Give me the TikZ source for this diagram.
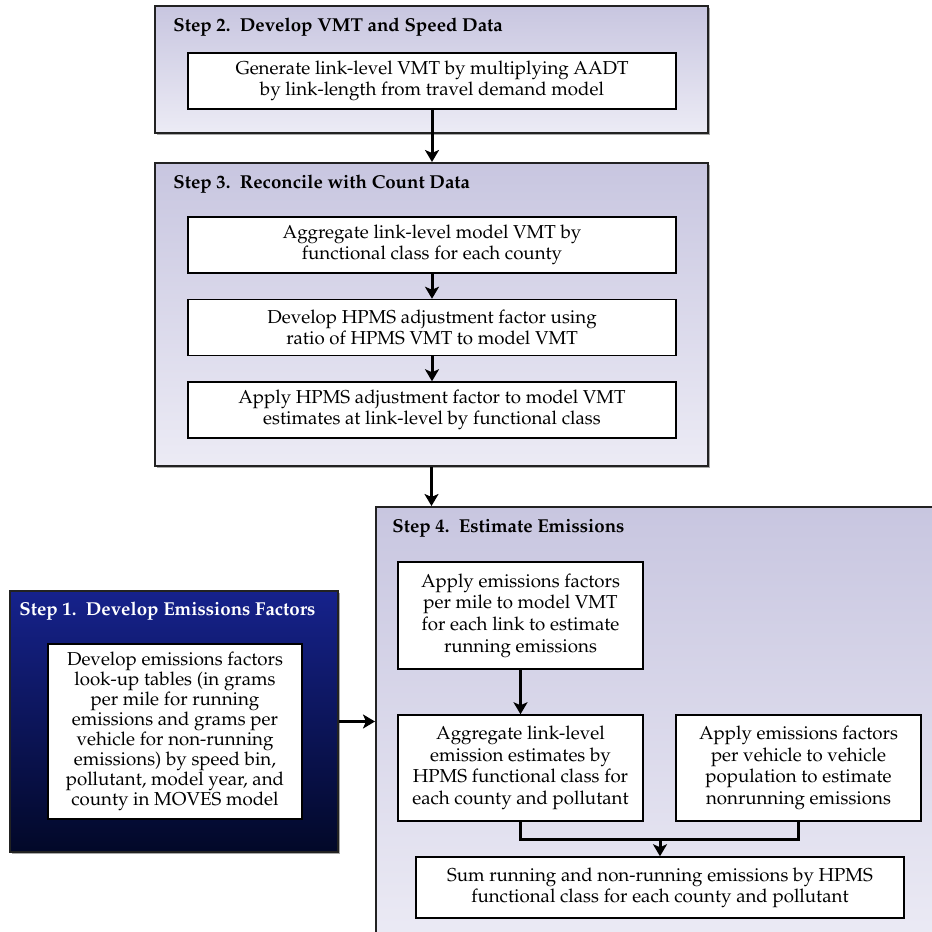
\documentclass[tikz,border=0pt]{standalone}
\usepackage[T1]{fontenc}
\usepackage{mathpazo}
\usetikzlibrary{arrows.meta,shadows}
\definecolor{lavtop}{HTML}{C8C6E0}
\definecolor{lavbot}{HTML}{ECEBF5}
\definecolor{navytop}{HTML}{16228C}
\definecolor{navybot}{HTML}{020828}
\definecolor{framecol}{HTML}{222222}
\definecolor{shadecol}{HTML}{A8A8A8}
\tikzset{
  boxshadow/.style={drop shadow={shadow xshift=0.8pt, shadow yshift=-0.8pt, fill=shadecol, opacity=1}},
  stepframe/.style={draw=framecol, line width=1pt, top color=lavtop, bottom color=lavbot, inner sep=0pt, boxshadow},
  darkframe/.style={draw=framecol, line width=1pt, top color=navytop, bottom color=navybot, inner sep=0pt, boxshadow},
  task/.style={draw=black, line width=0.75pt, fill=white, align=center, inner sep=0pt, font=\fontsize{9.35}{10.6}\selectfont},
  steptitle/.style={anchor=west, inner sep=0pt, font=\fontsize{9.35}{11}\selectfont\bfseries},
  flow/.style={line width=1.5pt, -{Stealth[length=6pt,width=7pt,inset=1.5pt]}},
  joinline/.style={line width=1.5pt},
}
\begin{document}
\begin{tikzpicture}[x=0.5pt,y=-0.5pt]
\useasboundingbox (0,0) rectangle (932,932);
% Step 2
\node[stepframe, minimum width=276.5pt, minimum height=63.5pt] (s2) at (431.5,69.5) {};
\node[steptitle] (s2t) at (173,27) {Step 2.\ \ Develop VMT and Speed Data};
\node[task, minimum width=244pt, minimum height=28pt] (s2a) at (432,81) {Generate link-level VMT by multiplying AADT\\by link-length from travel demand model};
% Step 3
\node[stepframe, minimum width=276.5pt, minimum height=151.5pt] (s3) at (431.5,314.5) {};
\node[steptitle] (s3t) at (173,184) {Step 3.\ \ Reconcile with Count Data};
\node[task, minimum width=244pt, minimum height=28pt] (s3a) at (432,245) {Aggregate link-level model VMT by\\functional class for each county};
\node[task, minimum width=244pt, minimum height=28pt] (s3b) at (432,327.5) {Develop HPMS adjustment factor using\\ratio of HPMS VMT to model VMT};
\node[task, minimum width=244pt, minimum height=28pt] (s3c) at (432,410) {Apply HPMS adjustment factor to model VMT\\estimates at link-level by functional class};
% Step 4
\node[stepframe, minimum width=287pt, minimum height=221.5pt] (s4) at (663,728.5) {};
\node[steptitle] (s4t) at (392,528) {Step 4.\ \ Estimate Emissions};
\node[task, minimum width=122.5pt, minimum height=53.5pt, font=\fontsize{9.35}{10.85}\selectfont] (s4a) at (520.5,615.5) {Apply emissions factors\\per mile to model VMT\\for each link to estimate\\running emissions};
\node[task, minimum width=122.5pt, minimum height=53pt, font=\fontsize{9.35}{10.85}\selectfont] (s4b) at (520.5,768) {Aggregate link-level\\emission estimates by\\HPMS functional class for\\each county and pollutant};
\node[task, minimum width=122.5pt, minimum height=53pt, font=\fontsize{9.35}{10.85}\selectfont] (s4c) at (798.5,768) {Apply emissions factors\\per vehicle to vehicle\\population to estimate\\nonrunning emissions};
\node[task, minimum width=244pt, minimum height=30.5pt] (s4d) at (660,887.5) {Sum running and non-running emissions by HPMS\\functional class for each county and pollutant};
% Step 1
\node[darkframe, minimum width=164pt, minimum height=130.5pt] (s1) at (174,721.5) {};
\node[steptitle, text=white] (s1t) at (19,611) {Step 1.\ \ Develop Emissions Factors};
\node[task, minimum width=127pt, minimum height=87.5pt, font=\fontsize{9.35}{10}\selectfont] (s1a) at (175,731.5) {Develop emissions factors\\look-up tables (in grams\\per mile for running\\emissions and grams per\\vehicle for non-running\\emissions) by speed bin,\\pollutant, model year, and\\county in MOVES model};
% connectors
\draw[flow] (s2a.south) -- (s2a.south |- s3.north);
\draw[flow] (s3a.south) -- (s3b.north);
\draw[flow] (s3b.south) -- (s3c.north);
\draw[flow] (s3.south) -- (s3.south |- s4.north);
\draw[flow] (s1.east) -- (s1.east -| s4.west);
\draw[flow] (s4a.south) -- (s4b.north);
\coordinate (jn) at (660,839);
\draw[joinline] (s4b.south) |- (jn) -| (s4c.south);
\draw[flow] (jn) -- (s4d.north);
\end{tikzpicture}
\end{document}
